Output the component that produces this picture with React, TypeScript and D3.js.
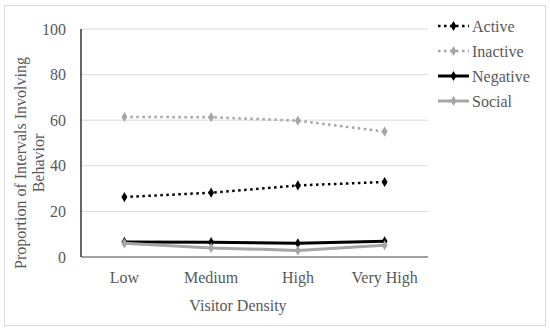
import React, { useEffect, useRef } from "react";
import * as d3 from "d3";

const categories = ["Low", "Medium", "High", "Very High"];
const active = [26.3, 28.2, 31.4, 32.9];
const inactive = [61.4, 61.3, 59.8, 55.0];
const negative = [6.6, 6.5, 6.0, 6.9];
const social = [6.0, 4.0, 2.9, 5.1];
const yTicks = [0, 20, 40, 60, 80, 100];

const series = [
  { name: "Active", values: active, color: "#000000", dash: "2.5,3.5", width: 2.5 },
  { name: "Inactive", values: inactive, color: "#a5a5a5", dash: "2.5,3.5", width: 2.5 },
  { name: "Negative", values: negative, color: "#000000", dash: null, width: 3 },
  { name: "Social", values: social, color: "#a5a5a5", dash: null, width: 3 },
];

export default function App() {
  const svgRef = useRef<SVGSVGElement>(null);

  useEffect(() => {
    document.body.style.margin = "0";
    const svg = d3.select(svgRef.current);
    svg.selectAll("*").remove();

    const font = "Liberation Serif, DejaVu Serif, serif";
    const textColor = "#595959";

    // outer frame
    svg.append("rect")
      .attr("x", 4.5).attr("y", 5.5).attr("width", 541).attr("height", 320)
      .attr("fill", "white").attr("stroke", "#d9d9d9");

    const x = d3.scaleBand().domain(categories).range([81, 428]);
    const y = d3.scaleLinear().domain([0, 100]).range([257, 29]);

    // gridlines
    svg.append("g").selectAll("line")
      .data(yTicks.filter((t) => t > 0))
      .join("line")
      .attr("x1", 81).attr("x2", 428)
      .attr("y1", (d) => y(d)).attr("y2", (d) => y(d))
      .attr("stroke", "#d9d9d9").attr("stroke-width", 1);

    // y tick labels
    svg.append("g").selectAll("text")
      .data(yTicks)
      .join("text")
      .attr("x", 66).attr("y", (d) => y(d))
      .attr("dy", "0.35em")
      .attr("text-anchor", "end")
      .style("font-family", font).attr("font-size", 16)
      .attr("fill", textColor)
      .text((d) => d);

    // axes
    svg.append("line").attr("x1", 81).attr("x2", 81).attr("y1", y(100)).attr("y2", y(0))
      .attr("stroke", "#000").attr("stroke-width", 1.2);
    svg.append("line").attr("x1", 81).attr("x2", 428).attr("y1", y(0)).attr("y2", y(0))
      .attr("stroke", "#404040").attr("stroke-width", 1.2);

    // x labels
    svg.append("g").selectAll("text")
      .data(categories)
      .join("text")
      .attr("x", (d) => x(d)! + x.bandwidth() / 2)
      .attr("y", 283)
      .attr("text-anchor", "middle")
      .style("font-family", font).attr("font-size", 16)
      .attr("fill", textColor)
      .text((d) => d);

    // axis titles
    svg.append("text")
      .attr("x", 238).attr("y", 311)
      .attr("text-anchor", "middle")
      .style("font-family", font).attr("font-size", 16)
      .attr("fill", textColor)
      .text("Visitor Density");

    const yTitle = svg.append("text")
      .attr("transform", "translate(26,163) rotate(-90)")
      .attr("text-anchor", "middle")
      .style("font-family", font).attr("font-size", 16)
      .attr("fill", textColor);
    yTitle.append("tspan").attr("x", 0).attr("y", 0).text("Proportion of Intervals Involving");
    yTitle.append("tspan").attr("x", 0).attr("y", 18).text("Behavior");

    const line = d3.line<number>()
      .x((_, i) => x(categories[i])! + x.bandwidth() / 2)
      .y((d) => y(d));

    const diamond = d3.symbol().type(d3.symbolDiamond).size(30);

    series.forEach((s) => {
      const g = svg.append("g");
      g.append("path")
        .datum(s.values)
        .attr("d", line)
        .attr("fill", "none")
        .attr("stroke", s.color)
        .attr("stroke-width", s.width)
        .attr("stroke-dasharray", s.dash);
      g.selectAll("path.m")
        .data(s.values)
        .join("path")
        .attr("class", "m")
        .attr("d", diamond)
        .attr("transform", (d, i) => `translate(${x(categories[i])! + x.bandwidth() / 2},${y(d)})`)
        .attr("fill", s.color);
    });

    // legend
    const legend = svg.append("g");
    series.forEach((s, i) => {
      const ly = 26 + i * 25;
      legend.append("line")
        .attr("x1", 438).attr("x2", 469).attr("y1", ly).attr("y2", ly)
        .attr("stroke", s.color).attr("stroke-width", s.width)
        .attr("stroke-dasharray", s.dash);
      legend.append("path")
        .attr("d", diamond)
        .attr("transform", `translate(453.5,${ly})`)
        .attr("fill", s.color);
      legend.append("text")
        .attr("x", 472).attr("y", ly)
        .attr("dy", "0.35em")
        .style("font-family", font).attr("font-size", 16)
        .attr("fill", textColor)
        .text(s.name);
    });
  }, []);

  return <svg ref={svgRef} width={550} height={333} style={{ display: "block" }} />;
}
